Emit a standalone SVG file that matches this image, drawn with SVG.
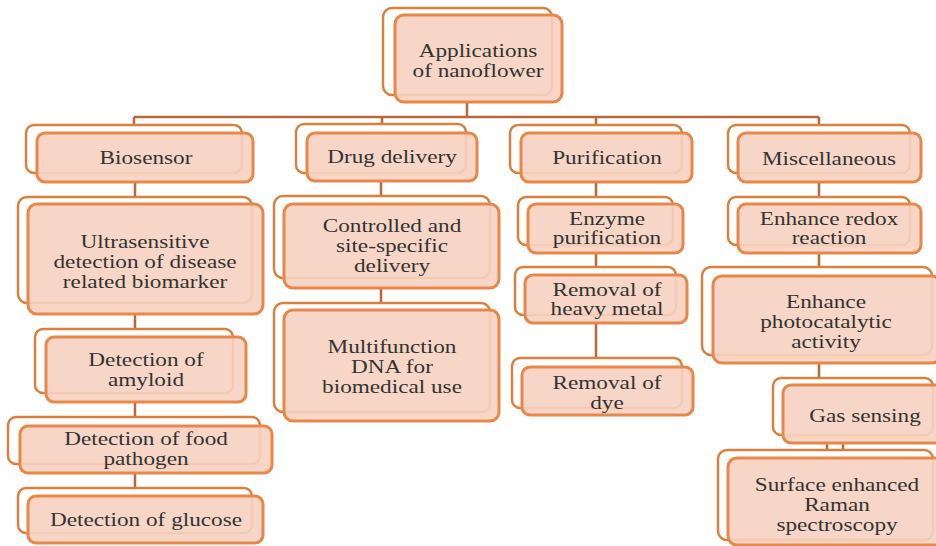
<svg xmlns="http://www.w3.org/2000/svg" width="936" height="546" viewBox="0 0 936 546">
<style>
.bk{fill:#ffffff;stroke:#D8803F;stroke-width:2.5}
.fr{fill:#F6D2C1;fill-opacity:0.9;stroke:#E8874A;stroke-width:3}
.t{font-family:"Liberation Serif","Times New Roman",serif;font-size:18px;fill:#333333;text-anchor:middle}
.c{stroke:#B8683C;stroke-width:2.5;fill:none}
</style>
<rect width="936" height="546" fill="#ffffff"/>
<g id="connectors">
<path class="c" d="M467 102V117M134 117H819M134 117V125M382 117V124M596 117V125M819 117V125"/>
<path class="c" d="M135 182V197M135 314V329M135 402V417M135 473V488"/>
<path class="c" d="M381 181V196M381 288V303"/>
<path class="c" d="M596 182V197M596 253V267M596 323V358"/>
<path class="c" d="M819 182V197M819 253V267M819 363V378M827 443V450M843 443V450"/>
</g>
<g id="root">
<rect class="bk" x="383" y="8" width="169" height="87" rx="9"/>
<rect class="fr" x="395" y="15" width="167" height="87" rx="9"/>
<text class="t" transform="translate(478 0) scale(1.29 1)"><tspan x="0" y="57">Applications</tspan><tspan x="0" y="77">of nanoflower</tspan></text>
</g>
<g id="biosensor">
<rect class="bk" x="26" y="125" width="216" height="48" rx="8"/>
<rect class="fr" x="37" y="133" width="216" height="49" rx="8"/>
<text class="t" transform="translate(146 0) scale(1.29 1)"><tspan x="0" y="164">Biosensor</tspan></text>
</g>
<g id="ultrasensitive">
<rect class="bk" x="18" y="197" width="234" height="106" rx="9"/>
<rect class="fr" x="28" y="204" width="235" height="110" rx="9"/>
<text class="t" transform="translate(145 0) scale(1.29 1)"><tspan x="0" y="248">Ultrasensitive</tspan><tspan x="0" y="268">detection of disease</tspan><tspan x="0" y="288">related biomarker</tspan></text>
</g>
<g id="amyloid">
<rect class="bk" x="35" y="329" width="198" height="64" rx="8"/>
<rect class="fr" x="46" y="337" width="200" height="65" rx="8"/>
<text class="t" transform="translate(146 0) scale(1.29 1)"><tspan x="0" y="366">Detection of</tspan><tspan x="0" y="386">amyloid</tspan></text>
</g>
<g id="food">
<rect class="bk" x="8" y="417" width="252" height="47" rx="8"/>
<rect class="fr" x="20" y="426" width="252" height="47" rx="8"/>
<text class="t" transform="translate(146 0) scale(1.29 1)"><tspan x="0" y="445">Detection of food</tspan><tspan x="0" y="465">pathogen</tspan></text>
</g>
<g id="glucose">
<rect class="bk" x="18" y="488" width="234" height="45" rx="8"/>
<rect class="fr" x="28" y="496" width="235" height="47" rx="8"/>
<text class="t" transform="translate(146 0) scale(1.29 1)"><tspan x="0" y="526">Detection of glucose</tspan></text>
</g>
<g id="drug">
<rect class="bk" x="296" y="124" width="170" height="49" rx="8"/>
<rect class="fr" x="307" y="133" width="170" height="48" rx="8"/>
<text class="t" transform="translate(392 0) scale(1.29 1)"><tspan x="0" y="163">Drug delivery</tspan></text>
</g>
<g id="controlled">
<rect class="bk" x="274" y="196" width="216" height="82" rx="9"/>
<rect class="fr" x="284" y="204" width="215" height="84" rx="9"/>
<text class="t" transform="translate(392 0) scale(1.29 1)"><tspan x="0" y="232">Controlled and</tspan><tspan x="0" y="252">site-specific</tspan><tspan x="0" y="272">delivery</tspan></text>
</g>
<g id="multifunction">
<rect class="bk" x="274" y="303" width="216" height="109" rx="9"/>
<rect class="fr" x="284" y="310" width="215" height="111" rx="9"/>
<text class="t" transform="translate(392 0) scale(1.29 1)"><tspan x="0" y="353">Multifunction</tspan><tspan x="0" y="373">DNA for</tspan><tspan x="0" y="393">biomedical use</tspan></text>
</g>
<g id="purification">
<rect class="bk" x="510" y="125" width="172" height="48" rx="8"/>
<rect class="fr" x="521" y="133" width="171" height="49" rx="8"/>
<text class="t" transform="translate(607 0) scale(1.29 1)"><tspan x="0" y="164">Purification</tspan></text>
</g>
<g id="enzyme">
<rect class="bk" x="518" y="197" width="155" height="48" rx="8"/>
<rect class="fr" x="528" y="204" width="155" height="49" rx="8"/>
<text class="t" transform="translate(607 0) scale(1.29 1)"><tspan x="0" y="225">Enzyme</tspan><tspan x="0" y="244">purification</tspan></text>
</g>
<g id="heavymetal">
<rect class="bk" x="515" y="267" width="161" height="48" rx="8"/>
<rect class="fr" x="525" y="275" width="162" height="48" rx="8"/>
<text class="t" transform="translate(607 0) scale(1.29 1)"><tspan x="0" y="296">Removal of</tspan><tspan x="0" y="315">heavy metal</tspan></text>
</g>
<g id="dye">
<rect class="bk" x="512" y="358" width="170" height="50" rx="8"/>
<rect class="fr" x="522" y="367" width="171" height="48" rx="8"/>
<text class="t" transform="translate(607 0) scale(1.29 1)"><tspan x="0" y="389">Removal of</tspan><tspan x="0" y="409">dye</tspan></text>
</g>
<g id="misc">
<rect class="bk" x="728" y="125" width="182" height="48" rx="8"/>
<rect class="fr" x="738" y="133" width="183" height="49" rx="8"/>
<text class="t" transform="translate(829 0) scale(1.29 1)"><tspan x="0" y="165">Miscellaneous</tspan></text>
</g>
<g id="redox">
<rect class="bk" x="728" y="197" width="182" height="48" rx="8"/>
<rect class="fr" x="738" y="204" width="183" height="49" rx="8"/>
<text class="t" transform="translate(829 0) scale(1.29 1)"><tspan x="0" y="225">Enhance redox</tspan><tspan x="0" y="244">reaction</tspan></text>
</g>
<g id="photocatalytic">
<rect class="bk" x="702" y="267" width="230" height="88" rx="9"/>
<rect class="fr" x="713" y="276" width="228" height="87" rx="9"/>
<text class="t" transform="translate(826 0) scale(1.29 1)"><tspan x="0" y="308">Enhance</tspan><tspan x="0" y="328">photocatalytic</tspan><tspan x="0" y="348">activity</tspan></text>
</g>
<g id="gas">
<rect class="bk" x="773" y="378" width="160" height="57" rx="8"/>
<rect class="fr" x="783" y="385" width="162" height="58" rx="8"/>
<text class="t" transform="translate(865 0) scale(1.29 1)"><tspan x="0" y="422">Gas sensing</tspan></text>
</g>
<g id="raman">
<rect class="bk" x="718" y="450" width="215" height="90" rx="9"/>
<rect class="fr" x="728" y="458" width="217" height="87" rx="9"/>
<text class="t" transform="translate(837 0) scale(1.29 1)"><tspan x="0" y="491">Surface enhanced</tspan><tspan x="0" y="511">Raman</tspan><tspan x="0" y="531">spectroscopy</tspan></text>
</g>
</svg>
